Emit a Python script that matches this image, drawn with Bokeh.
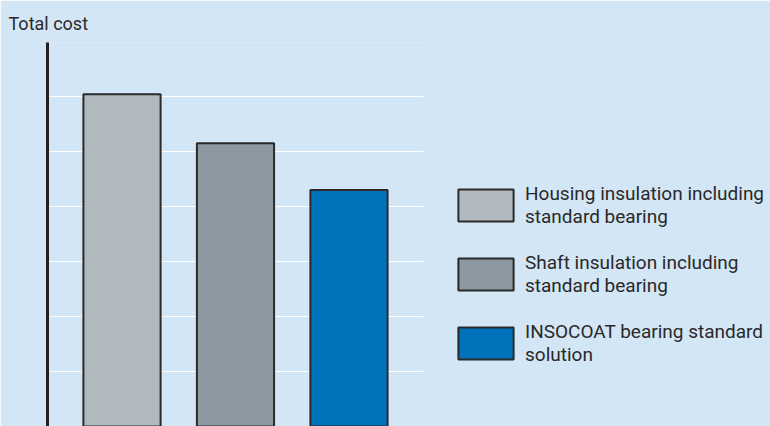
from bokeh.plotting import figure
from bokeh.models import Legend, LegendItem, Range1d, BoxAnnotation, FixedTicker
from bokeh.embed import file_html
from bokeh.resources import INLINE

# ---- data ----
categories = [
    "Housing insulation including\nstandard bearing",
    "Shaft insulation including\nstandard bearing",
    "INSOCOAT bearing standard\nsolution",
]
costs = [6.04, 5.15, 4.30]
bar_colors = ["#afb9be", "#8c989f", "#0071bb"]
grid_levels = [1, 2, 3, 4, 5, 6]
y_label = "Total cost"

BG = "#d2e6f6"
TEXT = "#2b2829"
FONT = "Roboto"

positions = list(range(1, len(categories) + 1))

p = figure(
    width=770, height=426,
    x_range=Range1d(0.3436, 6.714), y_range=Range1d(0, 6.98),
    output_backend="svg", toolbar_location=None,
    x_axis_location=None,
    min_border_left=47, min_border_right=0, min_border_top=42, min_border_bottom=0,
    background_fill_color=BG, border_fill_color=BG, outline_line_color=None,
)

p.title.text = y_label
p.title.align = "left"
p.title.offset = -39
p.title.text_font = FONT
p.title.text_font_size = "18px"
p.title.text_font_style = "normal"
p.title.text_color = TEXT
p.title.standoff = 18

p.yaxis.ticker = FixedTicker(ticks=[])
p.yaxis.axis_line_width = 3
p.yaxis.axis_line_color = "#231f20"
p.yaxis.major_tick_line_color = None
p.yaxis.minor_tick_line_color = None

p.ygrid.ticker = FixedTicker(ticks=grid_levels)
p.ygrid.grid_line_color = "white"
p.ygrid.grid_line_width = 1
p.xgrid.grid_line_color = None

# mask the grid beyond the bar area (legend region)
mask = BoxAnnotation(left=3.656, fill_color=BG, fill_alpha=1, line_alpha=0, level="underlay")
p.add_layout(mask)

items = []
for i, (cat, val, col) in enumerate(zip(categories, costs, bar_colors)):
    r = p.vbar(x=[positions[i]], top=[val], bottom=0, width=0.68,
               fill_color=col, line_color="#2a2a2a", line_width=2)
    items.append(LegendItem(label=cat, renderers=[r]))

legend = Legend(
    items=items, location=(404, 60),
    glyph_width=69, glyph_height=40, label_standoff=5, spacing=23,
    padding=0, margin=0,
    label_text_font=FONT, label_text_font_size="19px", label_text_color=TEXT,
    label_text_line_height=1.26,
    border_line_alpha=0, background_fill_alpha=0,
)
p.add_layout(legend)

html = file_html(p, INLINE)
html = html.replace("<body", '<body style="background-color:%s;"' % BG, 1)
open("out.html", "w").write(html)
